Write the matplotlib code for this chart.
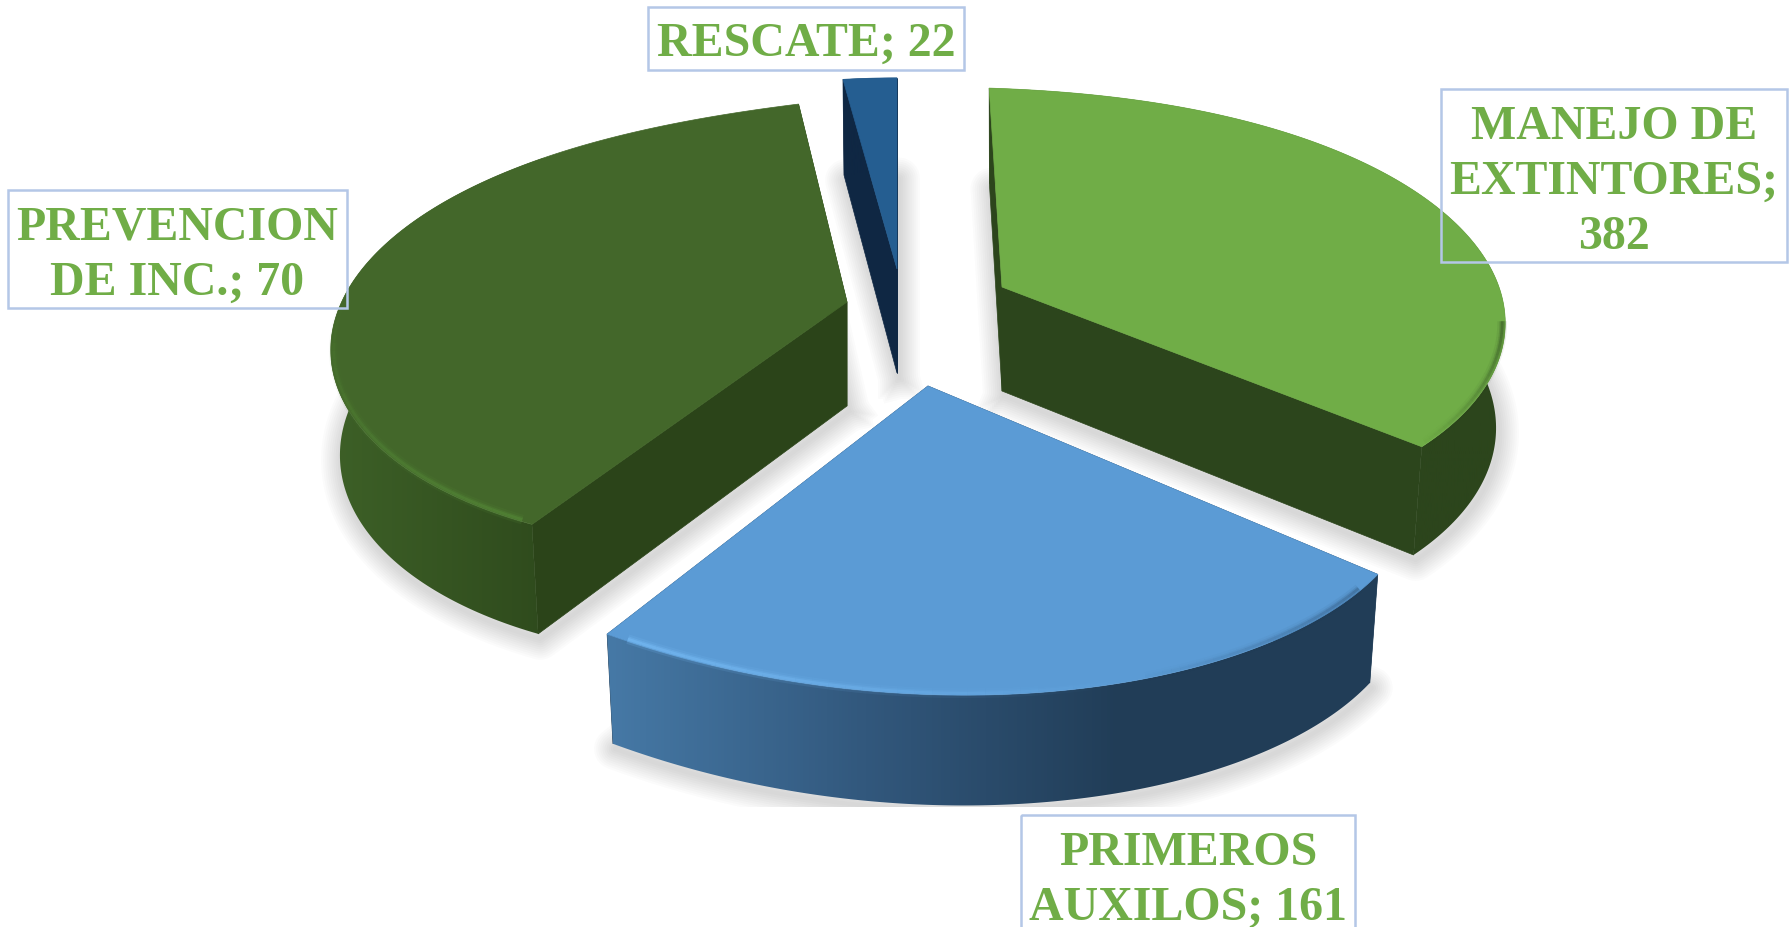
import numpy as np
import matplotlib
matplotlib.use("Agg")
import matplotlib.pyplot as plt
from matplotlib.colors import LinearSegmentedColormap
from matplotlib.patches import Polygon, Rectangle

# datos de la torta (los angulos se leen del dibujo, no salen de los valores)
categorias = ["MANEJO DE\nEXTINTORES;\n382", "PRIMEROS\nAUXILOS; 161", "PREVENCION\nDE INC.; 70", "RESCATE; 22"]
valores = [382, 161, 70, 22]
inicio_grados = [91.8, -40.7, 235.4, 97.9]
barrido_grados = [129.8, 81.5, 138.6, 7.9]
# el contorno no es una elipse perfecta: radio relativo segun el angulo
radio_ang = [[-38, -23, -9, 6, 40, 76, 92],
             [-122.2, -109, -90, -73.6, -56.7, -40.7],
             [96.8, 142, 169, 188, 217, 224, 235.4],
             [90, 98]]
radio_rel = [[0.93, 0.964, 0.996, 1.0, 1.0, 0.985, 1.0],
             [0.99, 0.985, 1.0, 1.018, 1.037, 1.025],
             [1.0, 0.986, 1.016, 1.012, 0.98, 0.955, 0.918],
             [0.96, 0.96]]
grado_ajuste = [4, 3, 4, 0]

centros = [(1002, 288), (928, 387), (847, 303), (897, 270)]
color_tapa = ["#70AD47", "#5B9BD5", "#43672A", "#255E91"]
color_corte = ["#2C451C", "#203D57", "#2B4419", "#0F2743"]
color_pared = [["#2C451C", "#2C451C"],
               ["#4679A6", "#32587D", "#213D57", "#213D57"],
               ["#3D6027", "#2F4B1D"],
               ["#0F2743", "#0F2743"]]
# tramo del borde con brillo: desde, hasta, color, alfa
brillos = [(-8, -37, "#22381A", 0.45), (-44, -70, "#1D3550", 0.3), (-120, -72, "#74B8F2", 0.9), (234, 178, "#558A38", 0.7)]

cajas = [(1441, 89, 346, 173), (1021, 815, 334, 140), (8, 190, 339, 118), (648, 7, 316, 63)]
base_texto = [(1614, 139), (1188, 865), (177, 240), (806, 56)]
paso_linea = 55

R = 497
K = 0.487
P = 0.2157
PROF = 104
VERDE = "#70AD47"
BORDE = "#B4C7E7"

# curva suave por los radios leidos, asi el borde no queda con quiebres
curvas = [np.polynomial.Polynomial.fit(radio_ang[i], radio_rel[i], grado_ajuste[i]) for i in range(4)]


def punto(c, t, i, extra=0):
    r = R * curvas[i](np.degrees(t)) + extra
    s = 1 / (1 + P * np.sin(t))
    return c[0] + r * np.cos(t) * s, c[1] - r * K * np.sin(t) * s


def punto_abajo(c, t, i):
    x, y = punto(c, t, i, -9)
    return x, y + PROF - 12 * np.sin(t)


def angulos(i):
    ini = inicio_grados[i]
    return np.radians(np.linspace(ini, ini - barrido_grados[i], 200))


fig = plt.figure(figsize=(17.9, 9.28), dpi=100)
ax = fig.add_axes([0, 0, 1, 1])

recorte = Rectangle((0, 0), 1790, 808, transform=ax.transData)

# sombras
for i in range(4):
    c = centros[i]
    xb, yb = punto_abajo(c, angulos(i), i)
    xs = np.r_[c[0], xb, c[0]]
    ys = np.r_[c[1] + PROF, yb, c[1] + PROF]
    for w in range(3, 33, 3):
        lin, = ax.plot(xs + 2, ys + 5, color="#707070", alpha=0.028, lw=w, zorder=1, solid_joinstyle="round")
        lin.set_clip_path(recorte)

for i in range(4):
    c = centros[i]
    t = angulos(i)
    xa, ya = punto(c, t, i)
    xb, yb = punto_abajo(c, t, i)
    z = 10 + i * 5

    # caras del corte
    for k in [0, -1]:
        cara = [(c[0], c[1]), (xa[k], ya[k]), (xb[k], yb[k]), (c[0], c[1] + PROF)]
        ax.add_patch(Polygon(cara, closed=True, fc=color_corte[i], ec=color_corte[i], lw=0.5, zorder=z))

    # pared exterior con degrade horizontal
    pared = Polygon(np.c_[np.r_[xa, xb[::-1]], np.r_[ya, yb[::-1]]], closed=True, fc="none", ec="none",
                    transform=ax.transData)
    ax.add_patch(pared)
    cmap = LinearSegmentedColormap.from_list("pared", color_pared[i])
    x0, x1 = min(xa.min(), xb.min()), max(xa.max(), xb.max())
    if i == 2:
        x1 = c[0] - 305
    im = ax.imshow(np.linspace(0, 1, 256).reshape(1, -1), cmap=cmap, aspect="auto",
                   extent=(x0, x1, 900, 0), zorder=z + 1)
    im.set_clip_path(pared)

    # tapa
    ax.add_patch(Polygon(np.c_[np.r_[c[0], xa], np.r_[c[1], ya]], closed=True, fc=color_tapa[i],
                         ec=color_tapa[i], lw=0.5, zorder=z + 3))

    # brillo del borde, se apaga hacia el final del tramo
    for desde, hasta, col, alfa in brillos:
        ini = inicio_grados[i]
        fin = ini - barrido_grados[i]
        if min(desde, hasta) >= fin and max(desde, hasta) <= ini:
            tramos = np.linspace(desde, hasta, 31)
            for n in range(30):
                tb = np.radians(np.linspace(tramos[n], tramos[n + 1], 5))
                xl, yl = punto(c, tb, i, -3)
                f = 1 - n / 30
                for w, a in [(7, 0.2), (4, 0.4), (2, 0.7)]:
                    ax.plot(xl, yl, color=col, alpha=a * alfa * f, lw=w, zorder=z + 4, solid_capstyle="butt")

# etiquetas
for i in range(4):
    x, y, w, h = cajas[i]
    ax.add_patch(Rectangle((x, y + 1), w, h, fc="none", ec=BORDE, lw=1.8, zorder=60, clip_on=True))
    xt, yt = base_texto[i]
    for n, linea in enumerate(categorias[i].split("\n")):
        ax.text(xt, yt + n * paso_linea, linea, color=VERDE, fontsize=34.5, fontweight="bold",
                family="Liberation Serif", ha="center", va="baseline", zorder=61)

ax.set_xlim(0, 1790)
ax.set_ylim(928, 0)
ax.axis("off")
fig.savefig("out.png", dpi=100, facecolor="white")
